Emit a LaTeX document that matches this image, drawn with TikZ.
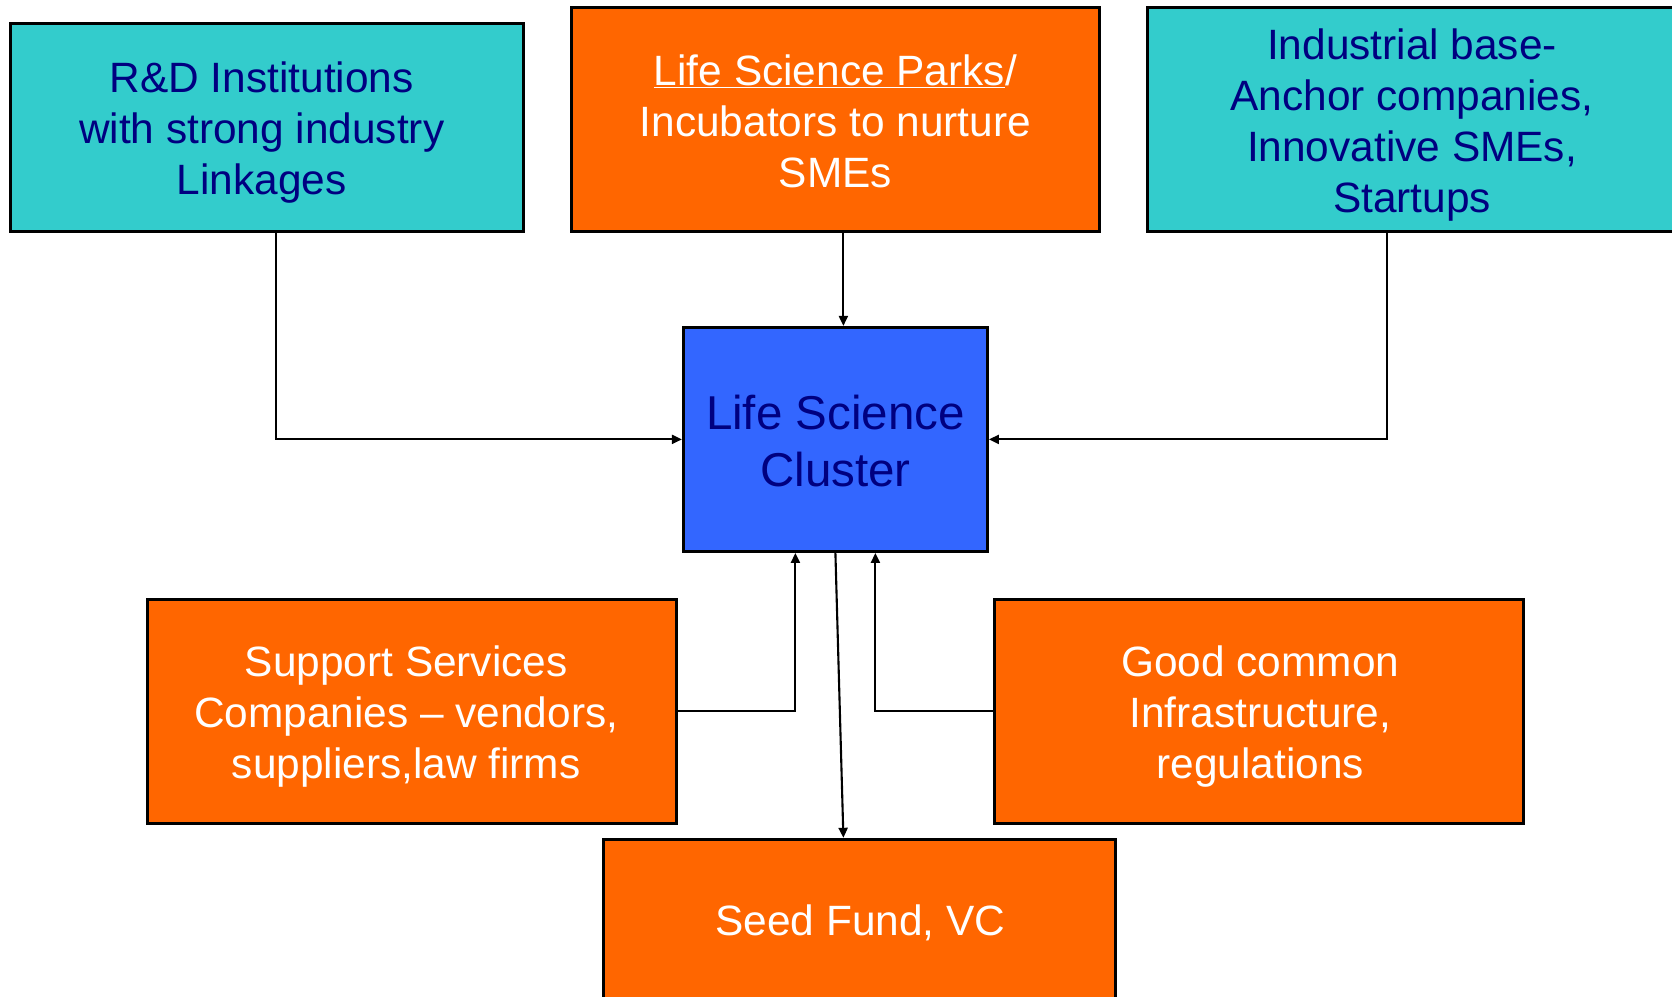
\documentclass[tikz,border=0pt]{standalone}
\usepackage{fontspec}
\setmainfont{Liberation Sans}
\usetikzlibrary{arrows.meta,calc}
\definecolor{teal1}{HTML}{33CCCC}
\definecolor{orange1}{HTML}{FF6600}
\definecolor{blue1}{HTML}{3366FF}
\definecolor{navy1}{HTML}{000080}
\tikzset{
  box/.style={draw=black, line width=3pt, rectangle, inner sep=0pt},
  tealbox/.style={box, fill=teal1},
  orangebox/.style={box, fill=orange1},
  txt/.style={align=center, inner sep=0pt, font=\fontsize{42.4}{51}\selectfont},
  navytxt/.style={txt, text=navy1},
  whitetxt/.style={txt, text=white},
  conn/.style={line width=2.1pt, -{Triangle[length=10pt,width=9pt]}}
}
\begin{document}
\begin{tikzpicture}[x=1pt,y=-1pt]
\useasboundingbox (0,0) rectangle (1672,996);
\clip (0,0) rectangle (1672,996);
\node[tealbox, minimum width=513pt, minimum height=208pt] (rd) at (267.2,127.5) {};
\node[navytxt] (rdt) at ($(rd)+(-5.5,5.3)$) {R\&D Institutions\\with strong industry\\Linkages};
\node[orangebox, minimum width=528pt, minimum height=224pt] (parks) at (835.4,119.5) {};
\node[whitetxt] (parkst) at ($(parks)+(0,2)$) {\underline{Life Science Parks}/\\Incubators to nurture\\SMEs};
\node[tealbox, minimum width=528pt, minimum height=224pt] (ind) at (1411,119.5) {};
\node[navytxt] (indt) at ($(ind)+(1,5.5)$) {Industrial base-\\Anchor companies,\\Innovative SMEs,\\Startups};
\node[box, fill=blue1, minimum width=304pt, minimum height=224pt] (ctr) at (835.4,439.4) {};
\node[navytxt, font=\fontsize{47.5}{56.5}\selectfont] (ctrt) at ($(ctr)+(0,1.5)$) {Life Science\\Cluster};
\node[orangebox, minimum width=529pt, minimum height=224pt] (sup) at (411.5,711.2) {};
\node[whitetxt] (supt) at ($(sup)+(-5.3,5.3)$) {Support Services\\Companies -- vendors,\\suppliers,law firms};
\node[orangebox, minimum width=529pt, minimum height=224pt] (good) at (1259.3,711.2) {};
\node[whitetxt] (goodt) at ($(good)+(1,5.3)$) {Good common\\Infrastructure,\\regulations};
\node[orangebox, minimum width=512pt, minimum height=164pt] (seed) at (859.4,921.3) {};
\node[whitetxt] (seedt) at ($(seed)+(1,2)$) {Seed Fund, VC};
\draw[conn] ($(rd.south)+(9,0)$) |- (ctr.west);
\draw[conn] ($(parks.south)+(8,0)$) -- ($(ctr.north)+(8,0)$);
\draw[conn] ($(ind.south)+(-23.7,0)$) |- (ctr.east);
\draw[conn] (sup.east) -| ($(ctr.south)+(-40,0)$);
\draw[conn] (good.west) -| ($(ctr.south)+(40,0)$);
\draw[conn] (ctr.south) -- ($(seed.north)+(-16,0)$);
\end{tikzpicture}
\end{document}
